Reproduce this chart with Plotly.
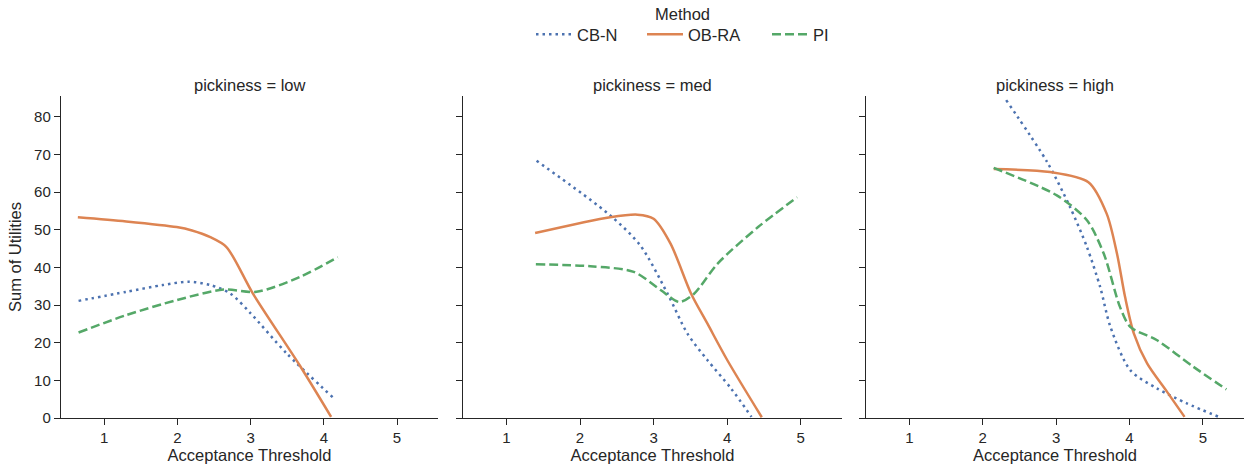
import plotly.graph_objects as go

W, H = 1245, 465

methods = ["CB-N", "OB-RA", "PI"]
panels = ["low", "med", "high"]

# pickiness = low
low_cbn_x = [0.65, 1.3, 1.8, 2.15, 2.45, 2.72, 3.0, 3.49, 4.15]
low_cbn_y = [31.1, 33.5, 35.3, 36.2, 35.3, 33.1, 27.8, 17.2, 5.0]
low_obra_x = [0.64, 1.3, 1.99, 2.2, 2.45, 2.67, 3.03, 3.67, 4.1]
low_obra_y = [53.3, 52.2, 50.7, 49.8, 48.0, 45.4, 33.1, 14.0, 0.3]
low_pi_x = [0.65, 1.3, 1.99, 2.63, 3.08, 3.67, 4.19]
low_pi_y = [22.7, 27.3, 31.3, 34.1, 33.5, 37.4, 42.7]

# pickiness = med
med_cbn_x = [1.41, 2.41, 2.82, 3.19, 3.46, 3.73, 4.05, 4.33]
med_cbn_y = [68.3, 53.8, 45.8, 33.0, 22.4, 15.4, 7.9, 0.3]
med_obra_x = [1.39, 2.41, 2.78, 3.0, 3.23, 3.51, 3.73, 4.0, 4.47]
med_obra_y = [49.1, 53.3, 54.0, 52.9, 46.3, 33.0, 25.1, 15.4, 0.2]
med_pi_x = [1.40, 2.14, 2.73, 3.10, 3.35, 3.55, 3.87, 4.42, 4.95]
med_pi_y = [40.8, 40.3, 38.8, 33.9, 30.8, 33.0, 41.0, 50.7, 58.6]

# pickiness = high
high_cbn_x = [2.32, 2.88, 3.19, 3.42, 3.60, 3.74, 4.01, 4.37, 4.78, 5.23]
high_cbn_y = [84.4, 67.9, 56.0, 45.4, 34.8, 24.2, 12.7, 7.9, 3.9, 0.2]
high_obra_x = [2.15, 2.92, 3.44, 3.69, 3.83, 3.94, 4.06, 4.24, 4.51, 4.75]
high_obra_y = [66.1, 65.3, 62.6, 54.2, 43.6, 32.1, 22.4, 14.5, 7.0, 0.3]
high_pi_x = [2.15, 3.01, 3.42, 3.65, 3.87, 4.01, 4.37, 4.87, 5.32]
high_pi_y = [66.4, 59.1, 52.5, 43.6, 29.5, 24.2, 20.7, 13.6, 7.6]

data = {
    "low": [(low_cbn_x, low_cbn_y), (low_obra_x, low_obra_y), (low_pi_x, low_pi_y)],
    "med": [(med_cbn_x, med_cbn_y), (med_obra_x, med_obra_y), (med_pi_x, med_pi_y)],
    "high": [(high_cbn_x, high_cbn_y), (high_obra_x, high_obra_y), (high_pi_x, high_pi_y)],
}

x_ticks = [1, 2, 3, 4, 5]
y_ticks = [0, 10, 20, 30, 40, 50, 60, 70, 80]

colors = ["#4c72b0", "#dd8452", "#55a868"]
dashes = ["2.5px,4px", "solid", "9px,4px"]
legend_ids = ["legend", "legend2", "legend3"]
legend_left_px = [531, 642, 767]

px_domains = [(61, 438), (463, 842), (866, 1244)]
y_dom = [1 - 418 / H, 1 - 96 / H]
font = "Liberation Sans, Arial, sans-serif"
axcol = "#262626"

fig = go.Figure()
for pi, p in enumerate(panels):
    for mi, m in enumerate(methods):
        xs, ys = data[p][mi]
        fig.add_trace(go.Scatter(
            x=xs, y=ys, mode="lines", name=m,
            line=dict(color=colors[mi], dash=dashes[mi], width=2.5, shape="spline", smoothing=0.8),
            xaxis="x" if pi == 0 else f"x{pi+1}",
            yaxis="y" if pi == 0 else f"y{pi+1}",
            showlegend=(pi == 0), legendgroup=m, legend=legend_ids[mi],
        ))

layout = dict(
    width=W, height=H,
    margin=dict(l=0, r=0, t=0, b=0, autoexpand=False),
    paper_bgcolor="white", plot_bgcolor="white",
    font=dict(family=font, color=axcol, size=16),
    annotations=[dict(
        text="Method", x=682 / W, y=1 - 14 / H, xref="paper", yref="paper",
        xanchor="center", yanchor="middle", showarrow=False, font=dict(size=16.5, color=axcol),
    )],
)
for li, lid in enumerate(legend_ids):
    layout[lid] = dict(
        orientation="h", x=legend_left_px[li] / W, xanchor="left", y=1 - 17 / H, yanchor="top",
        font=dict(size=16.5), bgcolor="rgba(0,0,0,0)", itemwidth=36,
    )

for pi, p in enumerate(panels):
    xk = "xaxis" if pi == 0 else f"xaxis{pi+1}"
    yk = "yaxis" if pi == 0 else f"yaxis{pi+1}"
    a, b = px_domains[pi]
    layout[xk] = dict(
        domain=[a / W, b / W], range=[0.41, 5.56], automargin=False,
        tickvals=x_ticks, ticks="outside", ticklen=6, tickwidth=1.3, tickcolor=axcol,
        showline=True, linecolor=axcol, linewidth=1.4, showgrid=False, zeroline=False,
        tickfont=dict(size=15), anchor="y" if pi == 0 else f"y{pi+1}",
        title=dict(text="Acceptance Threshold", font=dict(size=16.5), standoff=2),
    )
    layout[yk] = dict(
        domain=y_dom, range=[0, 85.5], automargin=False,
        tickvals=y_ticks, ticks="outside", ticklen=6, tickwidth=1.3, tickcolor=axcol,
        showline=True, linecolor=axcol, linewidth=1.4, showgrid=False, zeroline=False,
        showticklabels=(pi == 0), tickfont=dict(size=15),
        anchor="x" if pi == 0 else f"x{pi+1}",
        title=dict(text="Sum of Utilities" if pi == 0 else "", font=dict(size=16.5), standoff=8),
    )
    layout["annotations"].append(dict(
        text=f"pickiness = {p}", x=(a + b) / 2 / W, y=1 - 85 / H, xref="paper", yref="paper",
        xanchor="center", yanchor="middle", showarrow=False, font=dict(size=16.5, color=axcol),
    ))

fig.update_layout(**layout)
fig.write_html(
    "out.html",
    config={"displayModeBar": False},
    post_script="document.body.style.margin='0';document.body.style.overflow='hidden';",
)
